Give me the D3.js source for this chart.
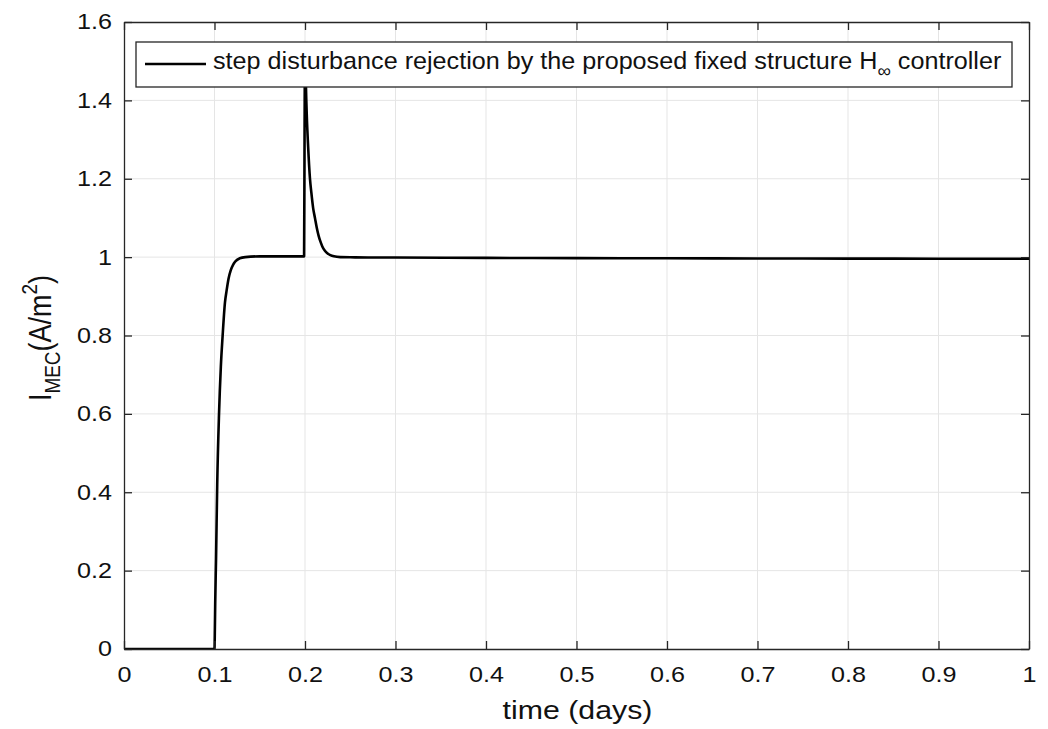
<!DOCTYPE html>
<html><head><meta charset="utf-8">
<script src="https://cdn.jsdelivr.net/npm/d3@7"></script>
<style>body{margin:0;background:#fff;} text{font-family:"Liberation Sans",Arial,sans-serif;}</style>
</head><body>
<svg id="chart" width="1048" height="729"></svg>
<script>
// Data
const timeDays = [0, 0.05, 0.1, 0.1004, 0.1008, 0.1017, 0.103, 0.105, 0.107, 0.109, 0.1116, 0.1134, 0.1155, 0.1180, 0.1205, 0.1227, 0.128, 0.134, 0.15, 0.199, 0.1995, 0.2, 0.2005, 0.201, 0.202, 0.2035, 0.2055, 0.207, 0.209, 0.211, 0.213, 0.215, 0.217, 0.219, 0.222, 0.225, 0.228, 0.232, 0.239, 0.25, 0.3, 0.4, 0.5, 0.6, 0.7, 0.8, 0.9, 1.0];
const currentValues = [0, 0, 0, 0.05, 0.12, 0.23, 0.42, 0.60, 0.72, 0.80, 0.885, 0.915, 0.945, 0.967, 0.980, 0.988, 0.997, 1.000, 1.002, 1.002, 1.30, 1.52, 1.50, 1.44, 1.36, 1.28, 1.20, 1.165, 1.125, 1.10, 1.075, 1.055, 1.04, 1.028, 1.016, 1.009, 1.005, 1.002, 1.000, 0.9995, 0.999, 0.998, 0.9975, 0.997, 0.9965, 0.9963, 0.996, 0.996];
const xTicks = [0, 0.1, 0.2, 0.3, 0.4, 0.5, 0.6, 0.7, 0.8, 0.9, 1];
const yTicks = [0, 0.2, 0.4, 0.6, 0.8, 1, 1.2, 1.4, 1.6];
const legendLabel = "step disturbance rejection by the proposed fixed structure H";

const svg = d3.select("#chart");
const L = 124, R = 1029, T = 22, B = 649;
const x = d3.scaleLinear().domain([0, 1]).range([L, R]);
const y = d3.scaleLinear().domain([0, 1.6]).range([B, T]);
const SX = 1.17; // horizontal stretch of glyphs seen in the picture

function stretchX(sel, ax, s) {
  sel.attr("transform", `translate(${ax},0) scale(${s},1) translate(${-ax},0)`);
}

svg.append("defs").append("clipPath").attr("id", "clip")
  .append("rect").attr("x", L).attr("y", T).attr("width", R - L).attr("height", B - T);

// grid
const grid = svg.append("g");
grid.selectAll(".gx").data(xTicks.slice(1, -1)).enter().append("line")
  .attr("x1", d => x(d)).attr("x2", d => x(d)).attr("y1", T).attr("y2", B)
  .attr("stroke", "#e5e5e5").attr("stroke-width", 1);
grid.selectAll(".gy").data(yTicks.slice(1, -1)).enter().append("line")
  .attr("y1", d => y(d)).attr("y2", d => y(d)).attr("x1", L).attr("x2", R)
  .attr("stroke", "#e5e5e5").attr("stroke-width", 1);

// data line
svg.append("path").datum(timeDays.map((t, i) => [t, currentValues[i]]))
  .attr("clip-path", "url(#clip)")
  .attr("fill", "none").attr("stroke", "#000").attr("stroke-width", 2.6)
  .attr("stroke-linejoin", "round")
  .attr("d", d3.line().curve(d3.curveMonotoneX).x(d => x(d[0])).y(d => y(d[1])));

// axes
const fmt = d => (d === 0 || d === 1) ? String(d) : d3.format(".1f")(d);
const axB = svg.append("g").attr("transform", `translate(0,${B})`)
  .call(d3.axisBottom(x).tickValues(xTicks).tickFormat(fmt).tickSizeInner(-8).tickSizeOuter(0).tickPadding(18));
const axL = svg.append("g").attr("transform", `translate(${L},0)`)
  .call(d3.axisLeft(y).tickValues(yTicks).tickFormat(fmt).tickSizeInner(-8).tickSizeOuter(0).tickPadding(12));
const axT = svg.append("g").attr("transform", `translate(0,${T})`)
  .call(d3.axisTop(x).tickValues(xTicks).tickFormat("").tickSizeInner(-8).tickSizeOuter(0));
const axR = svg.append("g").attr("transform", `translate(${R},0)`)
  .call(d3.axisRight(y).tickValues(yTicks).tickFormat("").tickSizeInner(-8).tickSizeOuter(0));
[axB, axL, axT, axR].forEach(a => {
  a.select(".domain").attr("stroke", "#262626").attr("stroke-width", 1.3);
  a.selectAll(".tick line").attr("stroke", "#262626").attr("stroke-width", 1.3);
  a.selectAll("text").attr("font-size", 21.5).attr("fill", "#111")
    .attr("font-family", '"Liberation Sans",Arial,sans-serif');
});
axB.selectAll("text").attr("dy", "0.71em").each(function () { stretchX(d3.select(this), 0, SX); });
axL.selectAll("text").each(function () { stretchX(d3.select(this), -12, SX); });

// axis titles
const xt = svg.append("text").attr("x", (L + R) / 2 + 1).attr("y", 719).attr("text-anchor", "middle")
  .attr("font-size", 26).attr("fill", "#111").text("time (days)");
stretchX(xt, (L + R) / 2 + 1, 150 / xt.node().getComputedTextLength());

const yl = svg.append("text").attr("text-anchor", "middle").attr("font-size", 27).attr("fill", "#111");
yl.append("tspan").text("I");
yl.append("tspan").attr("font-size", 19).attr("dy", 8).text("MEC");
yl.append("tspan").attr("dy", -8).text("(A/m");
yl.append("tspan").attr("font-size", 19).attr("dy", -12).text("2");
yl.append("tspan").attr("dy", 12).text(")");
yl.attr("transform", `translate(51,338) scale(${SX},1) rotate(-90)`);

// legend
const lg = svg.append("g");
lg.append("rect").attr("x", 136).attr("y", 42).attr("width", 876).attr("height", 45)
  .attr("fill", "#fff").attr("stroke", "#262626").attr("stroke-width", 1.3);
lg.append("line").attr("x1", 145).attr("x2", 206).attr("y1", 64).attr("y2", 64)
  .attr("stroke", "#000").attr("stroke-width", 2.6);
const lt = lg.append("text").attr("x", 213).attr("y", 69).attr("font-size", 24).attr("fill", "#111");
lt.append("tspan").text(legendLabel);
lt.append("tspan").attr("font-size", 18).attr("dy", 8).text("\u221E");
lt.append("tspan").attr("dy", -8).text(" controller");
const lw = lt.node().getBBox().width;
stretchX(lt, 213, 789 / lw);
</script>
</body></html>
